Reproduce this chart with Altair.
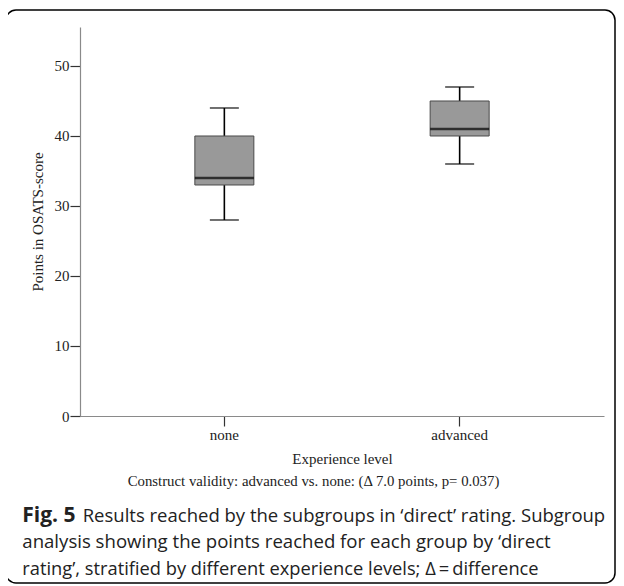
import altair as alt
import pandas as pd

groups = ["none", "advanced"]
lower_whisker = [28, 36]
q1 = [33, 40]
median = [34, 41]
q3 = [40, 45]
upper_whisker = [44, 47]

df = pd.DataFrame({
    "group": groups,
    "lo": lower_whisker,
    "q1": q1,
    "med": median,
    "q3": q3,
    "hi": upper_whisker,
})

SERIF = "Liberation Serif"
SANS = "Open Sans"

x = alt.X("group:N", sort=groups,
          scale=alt.Scale(type="band", paddingInner=0, paddingOuter=0.1135),
          axis=alt.Axis(title="Experience level", labelAngle=0, titlePadding=9,
                        labelPadding=1, tickSize=10))
yscale = alt.Scale(domain=[0, 55.57], nice=False, zero=True)

base = alt.Chart(df)

whisker = base.mark_rule(color="black", strokeWidth=1.6).encode(
    x=x,
    y=alt.Y("lo:Q", scale=yscale,
            axis=alt.Axis(title="Points in OSATS-score", values=[0, 10, 20, 30, 40, 50],
                          tickSize=10, labelPadding=1, titlePadding=9)),
    y2="hi:Q",
)
box = base.mark_bar(size=59, color="#999999", stroke="#4a4a4a", strokeWidth=1).encode(
    x=x, y=alt.Y("q1:Q", scale=yscale), y2="q3:Q"
)
med = base.mark_tick(size=59, thickness=2.5, color="black").encode(
    x=x, y=alt.Y("med:Q", scale=yscale)
)
cap_lo = base.mark_tick(size=29, thickness=1.6, color="black").encode(
    x=x, y=alt.Y("lo:Q", scale=yscale)
)
cap_hi = base.mark_tick(size=29, thickness=1.6, color="black").encode(
    x=x, y=alt.Y("hi:Q", scale=yscale)
)

frame = alt.Chart(pd.DataFrame({"a": [0]})).mark_rect(
    fill="transparent", stroke="black", strokeWidth=1.5, cornerRadius=10
).encode(
    x=alt.value(-74), x2=alt.value(535), y=alt.value(-17), y2=alt.value(556)
)

note = alt.Chart(pd.DataFrame({"t": ["Construct validity: advanced vs. none: (\u0394 7.0 points, p= 0.037)"]})).mark_text(
    font=SERIF, fontSize=14.8, align="center", baseline="alphabetic", color="#222222"
).encode(text="t:N", x=alt.value(233.5), y=alt.value(458.7))

fig = alt.Chart(pd.DataFrame({"t": ["Fig. 5"]})).mark_text(
    font=SANS, fontSize=21, fontWeight="bold", align="left", baseline="alphabetic", color="#222222"
).encode(text="t:N", x=alt.value(-57.7), y=alt.value(494.7))

caption_lines = [
    "Results reached by the subgroups in \u2018direct\u2019 rating. Subgroup",
    "analysis showing the points reached for each group by \u2018direct",
    "rating\u2019, stratified by different experience levels; \u0394\u2009=\u2009difference",
]
cap_df = pd.DataFrame({"t": caption_lines})
cap1 = alt.Chart(cap_df.iloc[[0]]).mark_text(
    font=SANS, fontSize=18.5, align="left", baseline="alphabetic", color="#222222"
).encode(text="t:N", x=alt.value(2.7), y=alt.value(494.7))
cap2 = alt.Chart(cap_df.iloc[[1]]).mark_text(
    font=SANS, fontSize=18.6, align="left", baseline="alphabetic", color="#222222"
).encode(text="t:N", x=alt.value(-57.7), y=alt.value(521.2))
cap3 = alt.Chart(cap_df.iloc[[2]]).mark_text(
    font=SANS, fontSize=18.3, align="left", baseline="alphabetic", color="#222222"
).encode(text="t:N", x=alt.value(-57.7), y=alt.value(547.9))

chart = alt.layer(whisker, cap_lo, cap_hi, box, med, frame, note, fig, cap1, cap2, cap3).properties(
    width=524, height=389,
    autosize=alt.AutoSizeParams(type="none"),
    padding={"left": 72, "top": 19, "right": 12, "bottom": 170},
).configure_view(stroke=None).configure_axis(
    grid=False,
    domainColor="#8a8a8a",
    domainWidth=1.2,
    tickColor="#333333",
    tickWidth=1.2,
    labelFont=SERIF,
    labelFontSize=15,
    labelColor="#222222",
    titleFont=SERIF,
    titleFontSize=15,
    titleFontWeight="normal",
    titleColor="#222222",
)

chart.save("out.html", embed_options={"renderer": "svg", "actions": False})
